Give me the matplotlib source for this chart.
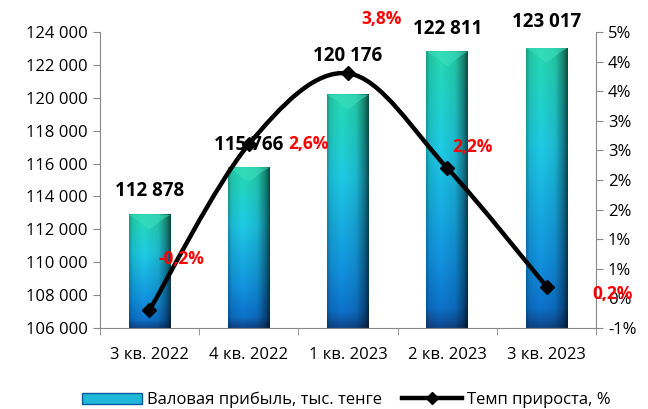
import numpy as np
import matplotlib
matplotlib.use("Agg")
import matplotlib.pyplot as plt
from matplotlib.path import Path
from matplotlib.patches import PathPatch, Patch
from matplotlib.lines import Line2D

plt.rcParams['font.family'] = ['Open Sans', 'DejaVu Sans']

# data
quarters = ['3 кв. 2022', '4 кв. 2022', '1 кв. 2023', '2 кв. 2023', '3 кв. 2023']
profit = [112878, 115766, 120176, 122811, 123017]
growth = [-0.2, 2.6, 3.8, 2.2, 0.2]
profit_labels = ['112 878', '115 766', '120 176', '122 811', '123 017']
growth_labels = ['-0,2%', '2,6%', '3,8%', '2,2%', '0,2%']

fig = plt.figure(figsize=(6.48, 4.09), dpi=100)
ax = fig.add_axes([0.154, 0.198, 0.766, 0.724])
ax2 = ax.twinx()

x = np.arange(len(quarters))
ymin, ymax = 106000, 124000

# gradient for bars: vertical colour ramp times a horizontal shading profile
stops = np.array([0.0, 0.12, 0.35, 0.75, 0.93, 1.0])
cols = np.array([[0.15, 0.85, 0.70],
                 [0.14, 0.84, 0.76],
                 [0.12, 0.80, 0.90],
                 [0.07, 0.58, 0.88],
                 [0.05, 0.45, 0.80],
                 [0.06, 0.28, 0.55]])
ny, nx = 200, 60
ty = np.linspace(0, 1, ny)
vert = np.stack([np.interp(ty, stops, cols[:, k]) for k in range(3)], axis=1)
tx = np.linspace(0, 1, nx)
prof = np.interp(tx, [0, 0.08, 0.35, 0.7, 0.9, 1.0], [0.72, 0.9, 1.0, 0.9, 0.6, 0.35])
grad = np.clip(vert[:, None, :] * prof[None, :, None], 0, 1)

bars = ax.bar(x, [p - ymin for p in profit], 0.42, bottom=ymin,
              color='none', edgecolor='none', zorder=2)
for b in bars:
    x0, y0 = b.get_x(), b.get_y()
    w, h = b.get_width(), b.get_height()
    ax.imshow(grad, extent=(x0, x0 + w, y0, y0 + h),
              aspect='auto', origin='upper', zorder=2, interpolation='bilinear')
    # bevel highlight on top (V shape)
    bev = 0.05 * (ymax - ymin)
    ax.fill([x0, x0 + w, x0 + w * 0.82, x0 + w * 0.5, x0 + w * 0.18],
            [y0 + h, y0 + h, y0 + h - bev * 0.3, y0 + h - bev, y0 + h - bev * 0.3],
            color='#3fe0c0', alpha=0.55, lw=0, zorder=3)

ax.set_xlim(-0.5, len(quarters) - 0.5)
ax.set_ylim(ymin, ymax)
ax.set_yticks(np.arange(ymin, ymax + 1, 2000))
ax.set_yticklabels([f'{v:,}'.replace(',', ' ') for v in range(ymin, ymax + 1, 2000)])
ax.set_xticks(x)
ax.set_xticklabels(quarters)
ax.set_xticks(np.arange(-0.5, len(quarters), 1), minor=True)
ax.tick_params(axis='x', which='major', length=0, pad=14, labelsize=12)
ax.tick_params(axis='x', which='minor', length=5, color='#888888')
ax.tick_params(axis='y', length=5, color='#888888', labelsize=12)

for s in ['top', 'right']:
    ax.spines[s].set_visible(False)
    ax2.spines[s].set_visible(False)
ax2.spines['right'].set_visible(True)
for a in (ax, ax2):
    for s in ['left', 'bottom', 'right']:
        a.spines[s].set_color('#888888')
ax2.spines['left'].set_visible(False)
ax2.spines['bottom'].set_visible(False)

# growth axis
ax2.set_ylim(-0.5, 4.5)
gt = np.arange(-0.5, 4.51, 0.5)
ax2.set_yticks(gt)
ax2.set_yticklabels([f'{int(np.sign(v) * np.floor(abs(v) + 0.5))}%' for v in gt])
ax2.tick_params(axis='y', length=5, color='#888888', labelsize=12)

# smooth line via cubic Bezier segments through the data points
pts = np.column_stack([x, growth]).astype(float)
ext = np.vstack([pts[0], pts, pts[-1]])
verts = [pts[0]]
codes = [Path.MOVETO]
for i in range(len(pts) - 1):
    p0, p1, p2, p3 = ext[i], ext[i + 1], ext[i + 2], ext[i + 3]
    c1 = p1 + (p2 - p0) / 6
    c2 = p2 - (p3 - p1) / 6
    verts += [c1, c2, p2]
    codes += [Path.CURVE4] * 3
ax2.add_patch(PathPatch(Path(verts, codes), fill=False, lw=3.2, ec='black',
                        capstyle='round', joinstyle='round', zorder=4))
ax2.plot(x, growth, ls='none', marker='D', ms=7, color='black', zorder=5)

# labels
p_off = [1450, 1350, 2350, 1350, 1600]
for xi, p, lab, dy in zip(x, profit, profit_labels, p_off):
    ax.text(xi, p + dy, lab, ha='center', va='center', fontsize=13.5,
            fontweight='bold', zorder=6)
g_off = [(0.32, 0.86), (0.6, 0.0), (0.34, 0.91), (0.25, 0.35), (0.67, -0.12)]
for xi, g, lab, (dx, dy) in zip(x, growth, growth_labels, g_off):
    ax2.text(xi + dx, g + dy, lab, ha='center', va='center', fontsize=12.5,
             fontweight='bold', color='red', zorder=6)

# legend
h1 = Patch(facecolor='#1fb8d8', edgecolor='#0d5aa0')
h2 = Line2D([], [], color='black', lw=3.2, marker='D', ms=6)
fig.legend([h1, h2], ['Валовая прибыль, тыс. тенге', 'Темп прироста, %'],
           loc='lower center', bbox_to_anchor=(0.535, -0.035), ncol=2, frameon=False,
           fontsize=12, handlelength=3.6, handletextpad=0.3, columnspacing=1.2)

fig.savefig('out.png', dpi=100)
